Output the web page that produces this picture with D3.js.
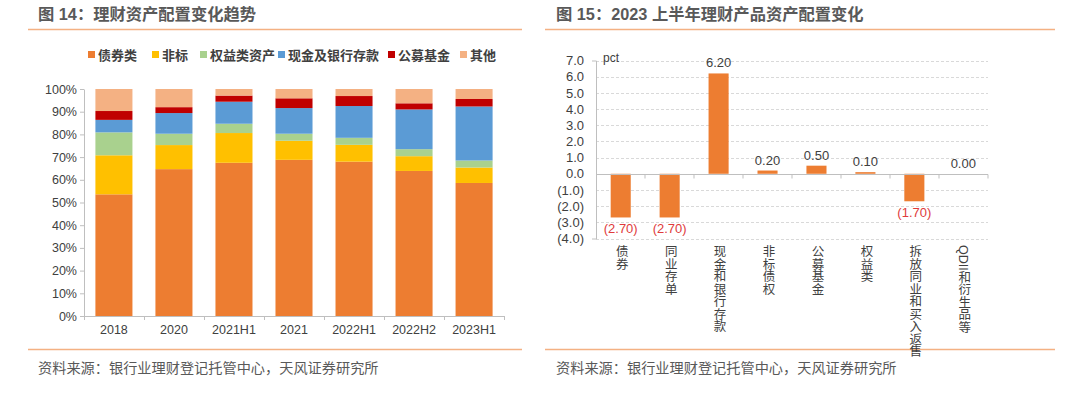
<!DOCTYPE html>
<html>
<head>
<meta charset="utf-8">
<script src="https://cdn.jsdelivr.net/npm/d3@7"></script>
<style>
  body { margin: 0; background: #fff; }
  svg { display: block; font-family: "Liberation Sans", "Noto Sans CJK SC", sans-serif; }
</style>
</head>
<body>
<svg id="chart" width="1080" height="395"></svg>
<script>
// left chart: asset allocation share (%)
const periods = ["2018", "2020", "2021H1", "2021", "2022H1", "2022H2", "2023H1"];
const seriesNames = ["债券类", "非标", "权益类资产", "现金及银行存款", "公募基金", "其他"];
const bonds   = [53.6, 64.7, 67.5, 68.8, 68.0, 63.9, 58.6];
const nonStd  = [17.2, 10.6, 13.1,  8.4,  7.4,  6.5,  6.8];
const equity  = [10.1,  5.0,  4.1,  3.1,  3.1,  3.1,  3.1];
const cash    = [ 5.5,  9.1,  9.7, 11.3, 14.0, 17.5, 23.8];
const funds   = [ 3.9,  2.6,  2.7,  4.3,  4.4,  2.7,  3.3];
const others  = [ 9.7,  8.0,  2.9,  4.1,  3.1,  6.3,  4.4];
const seriesColors = ["#ED7D31", "#FFC000", "#A9D18E", "#5B9BD5", "#C00000", "#F4B183"];
const pctTicks = [0, 10, 20, 30, 40, 50, 60, 70, 80, 90, 100];

// right chart: change in 2023H1 (pct)
const assets = ["债券", "同业存单", "现金和银行存款", "非标债权", "公募基金", "权益类", "拆放同业和买入返售", "QDII和衍生品等"];
const changes = [-2.7, -2.7, 6.2, 0.2, 0.5, 0.1, -1.7, 0.0];
const changeTicks = [-4, -3, -2, -1, 0, 1, 2, 3, 4, 5, 6, 7];

const svg = d3.select("#chart");
const lineColor = "#F4B183";
const textColor = "#404040";

// titles, separators and sources
function frame(x0, x1, tx, title) {
  svg.append("text").attr("x", tx).attr("y", 20)
    .attr("font-size", 16.3).attr("font-weight", "bold").attr("fill", "#595959")
    .text(title);
  svg.append("line").attr("x1", x0).attr("x2", x1).attr("y1", 29.5).attr("y2", 29.5)
    .attr("stroke", lineColor).attr("stroke-width", 1.5);
  svg.append("line").attr("x1", x0).attr("x2", x1).attr("y1", 349.5).attr("y2", 349.5)
    .attr("stroke", lineColor).attr("stroke-width", 1.5);
  svg.append("text").attr("x", tx).attr("y", 373)
    .attr("font-size", 14.2).attr("fill", "#595959")
    .text("资料来源：银行业理财登记托管中心，天风证券研究所");
}
frame(28, 522, 38, "图 14：理财资产配置变化趋势");
frame(545, 1055, 556, "图 15：2023 上半年理财产品资产配置变化");

// ---------- left stacked chart ----------
const rows = periods.map((p, i) => {
  const r = { period: p };
  [bonds, nonStd, equity, cash, funds, others].forEach((arr, k) => r[seriesNames[k]] = arr[i]);
  return r;
});
const stacked = d3.stack().keys(seriesNames)(rows);

const x1 = d3.scaleBand().domain(periods).range([84, 504]).paddingInner(0.383).paddingOuter(0.19);
const y1 = d3.scaleLinear().domain([0, 100]).range([316, 89]);

const gL = svg.append("g");
gL.selectAll("g.layer").data(stacked).enter().append("g")
  .attr("fill", (d, i) => seriesColors[i])
  .selectAll("rect").data(d => d).enter().append("rect")
  .attr("x", d => x1(d.data.period))
  .attr("width", x1.bandwidth())
  .attr("y", d => y1(Math.min(d[1], 100)))
  .attr("height", d => y1(d[0]) - y1(Math.min(d[1], 100)));

const yAxisL = gL.append("g").attr("transform", "translate(84,0)")
  .call(d3.axisLeft(y1).tickValues(pctTicks).tickFormat(d => d + "%").tickSize(4).tickSizeOuter(0));
yAxisL.selectAll("text").attr("font-size", 12.5).attr("fill", textColor);

const xEdges = d3.range(periods.length + 1).map(i => 84 + i * 60);
gL.append("line").attr("x1", 84).attr("x2", 504).attr("y1", 316.5).attr("y2", 316.5).attr("stroke", "#bfbfbf");
gL.selectAll("line.xt").data(xEdges).enter().append("line")
  .attr("x1", d => d + 0.5).attr("x2", d => d + 0.5).attr("y1", 316).attr("y2", 320).attr("stroke", "#bfbfbf");
gL.selectAll("text.xl").data(periods).enter().append("text")
  .attr("x", d => x1(d) + x1.bandwidth() / 2).attr("y", 334)
  .attr("text-anchor", "middle").attr("font-size", 12.5).attr("fill", textColor)
  .text(d => d);
yAxisL.select(".domain").attr("stroke", "#bfbfbf");
yAxisL.selectAll(".tick line").attr("stroke", "#bfbfbf");

// legend
const legendX = [88, 152, 200, 278, 388, 460];
const leg = gL.selectAll("g.leg").data(seriesNames).enter().append("g")
  .attr("transform", (d, i) => `translate(${legendX[i]},56)`);
leg.append("rect").attr("x", 0).attr("y", -5).attr("width", 7).attr("height", 7)
  .attr("fill", (d, i) => seriesColors[i]);
leg.append("text").attr("x", 10).attr("y", 4).attr("font-size", 13).attr("font-weight", "bold")
  .attr("fill", textColor).text(d => d);

// ---------- right bar chart ----------
const x2 = d3.scaleBand().domain(assets).range([596, 988]).paddingInner(0.59).paddingOuter(0.3);
const y2 = d3.scaleLinear().domain([-4, 7]).range([238.5, 60.5]);
const gR = svg.append("g");

gR.selectAll("line.grid").data(changeTicks.filter(d => d !== 0)).enter().append("line")
  .attr("x1", 596).attr("x2", 988).attr("y1", d => Math.round(y2(d)) + 0.5).attr("y2", d => Math.round(y2(d)) + 0.5)
  .attr("stroke", "#d9d9d9").attr("stroke-dasharray", "3,2");

const yAxisR = gR.append("g").attr("transform", "translate(596,0)")
  .call(d3.axisLeft(y2).tickValues(changeTicks)
    .tickFormat(d => d < 0 ? "(" + d3.format(".1f")(-d) + ")" : d3.format(".1f")(d))
    .tickSize(0).tickSizeOuter(4).tickPadding(12));
yAxisR.selectAll("text").attr("font-size", 13).attr("fill", textColor);
yAxisR.select(".domain").attr("stroke", "#bfbfbf");

gR.selectAll("rect").data(changes).enter().append("rect")
  .attr("x", (d, i) => x2(assets[i]))
  .attr("width", x2.bandwidth())
  .attr("y", d => y2(Math.max(d, 0)))
  .attr("height", d => Math.abs(y2(d) - y2(0)))
  .attr("fill", "#ED7D31");

const zeroY = Math.round(y2(0)) + 0.5;
gR.append("line").attr("x1", 596).attr("x2", 988).attr("y1", zeroY).attr("y2", zeroY).attr("stroke", "#bfbfbf");
const step2 = (988 - 596) / assets.length;
gR.selectAll("line.xt").data(d3.range(1, assets.length + 1)).enter().append("line")
  .attr("x1", d => 596 + d * step2).attr("x2", d => 596 + d * step2)
  .attr("y1", zeroY).attr("y2", zeroY + 4).attr("stroke", "#bfbfbf");

gR.selectAll("text.val").data(changes).enter().append("text")
  .attr("x", (d, i) => x2(assets[i]) + x2.bandwidth() / 2)
  .attr("y", d => d < 0 ? y2(d) + 16 : y2(d) - 6)
  .attr("text-anchor", "middle").attr("font-size", 13)
  .attr("fill", d => d < 0 ? "#E03B3B" : textColor)
  .text(d => d < 0 ? "(" + d3.format(".2f")(-d) + ")" : d3.format(".2f")(d));

gR.selectAll("text.cat").data(assets).enter().append("text")
  .attr("x", d => x2(d) + x2.bandwidth() / 2).attr("y", 245)
  .attr("font-size", 12.5).attr("fill", textColor)
  .style("writing-mode", "vertical-rl").style("text-orientation", "mixed")
  .text(d => d);

gR.append("text").attr("x", 603).attr("y", 62).attr("font-size", 12).attr("fill", textColor).text("pct");
</script>
</body>
</html>
